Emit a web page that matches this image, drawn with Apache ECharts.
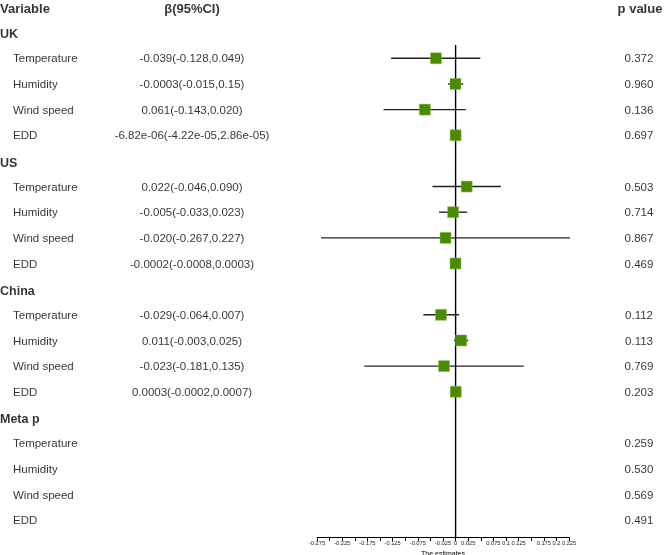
<!DOCTYPE html>
<html>
<head>
<meta charset="utf-8">
<script src="https://cdn.jsdelivr.net/npm/echarts@6/dist/echarts.min.js"></script>
<style>
html,body{margin:0;padding:0;background:#fff;}
#chart{width:664px;height:555px;}
</style>
</head>
<body>
<div id="chart"></div>
<script>
// ---- data ----
const groups = ['UK', 'US', 'China', 'Meta p'];
const variables = ['Temperature', 'Humidity', 'Wind speed', 'EDD'];
const ciText = [
  '-0.039(-0.128,0.049)', '-0.0003(-0.015,0.15)', '0.061(-0.143,0.020)', '-6.82e-06(-4.22e-05,2.86e-05)',
  '0.022(-0.046,0.090)', '-0.005(-0.033,0.023)', '-0.020(-0.267,0.227)', '-0.0002(-0.0008,0.0003)',
  '-0.029(-0.064,0.007)', '0.011(-0.003,0.025)', '-0.023(-0.181,0.135)', '0.0003(-0.0002,0.0007)'
];
const pValues = [
  '0.372', '0.960', '0.136', '0.697',
  '0.503', '0.714', '0.867', '0.469',
  '0.112', '0.113', '0.769', '0.203',
  '0.259', '0.530', '0.569', '0.491'
];
// plotted estimates and interval ends as drawn in the figure (UK, US, China)
const estimates = [-0.039, -0.0003, -0.061, -0.00000682, 0.022, -0.005, -0.020, -0.0002, -0.029, 0.011, -0.023, 0.0003];
const lower = [-0.128, -0.015, -0.143, -0.0000422, -0.046, -0.033, -0.267, -0.0008, -0.064, -0.003, -0.181, -0.0002];
const upper = [0.049, 0.015, 0.020, 0.0000286, 0.090, 0.023, 0.227, 0.0003, 0.007, 0.025, 0.135, 0.0007];
const tickLabels = ['-0.275', '-0.225', '-0.175', '-0.125', '-0.075', '-0.025', '0', '0.025', '0.075', '0.1', '0.125', '0.175', '0.2', '0.225'];
const headers = ['Variable', 'β(95%CI)', 'p value'];
const axisTitle = 'The estimates';

// ---- layout ----
const FONT = '"Liberation Sans", Arial, sans-serif';
const rowOf = (g, v) => 1 + g * 5 + 1 + v;
const Y_MIN = -0.273, Y_MAX = 20.663;
const X_GROUP = 0, X_VAR = 13, X_CI = 192, X_P = 639;

const textData = [];
function addText(x, r, text, align, bold, size) {
  textData.push({
    value: [x, r],
    label: {
      show: true, position: 'inside', formatter: text, align: align, offset: [0, 1],
      fontWeight: bold ? 'bold' : 'normal', fontSize: size, color: '#000', fontFamily: FONT
    }
  });
}
addText(X_GROUP, 0.05, headers[0], 'left', true, 13);
addText(X_CI, 0.05, headers[1], 'center', true, 13);
addText(X_P + 1, 0.05, headers[2], 'center', true, 13);
groups.forEach((g, gi) => {
  addText(X_GROUP, 1 + gi * 5 + 0.05, g, 'left', true, 12.5);
  variables.forEach((v, vi) => {
    const r = rowOf(gi, vi);
    const k = gi * 4 + vi;
    addText(X_VAR, r, v, 'left', false, 11.5);
    if (k < ciText.length) addText(X_CI, r, ciText[k], 'center', false, 11.5);
    addText(X_P, r, pValues[k], 'center', false, 11.5);
  });
});

const ciData = [];
const pointData = [];
estimates.forEach((e, k) => {
  const gi = Math.floor(k / 4), vi = k % 4;
  const r = rowOf(gi, vi);
  ciData.push([lower[k], upper[k], r]);
  pointData.push([e, r]);
});

const chart = echarts.init(document.getElementById('chart'), null, {renderer: 'canvas'});
chart.setOption({
  animation: false,
  backgroundColor: '#fff',
  textStyle: {fontFamily: FONT},
  grid: [
    {left: 317, width: 252, top: 0, height: 537, containLabel: false, outerBoundsMode: 'none'},
    {left: 0, width: 664, top: 0, height: 537, containLabel: false, outerBoundsMode: 'none'}
  ],
  xAxis: [
    {
      type: 'value', gridIndex: 0, min: -0.275, max: 0.225, interval: 0.025,
      splitLine: {show: false},
      axisLine: {show: true, onZero: false, lineStyle: {color: '#000', width: 1}},
      axisTick: {show: true, length: 4, lineStyle: {color: '#000', width: 1}},
      axisLabel: {
        fontSize: 5.7, color: '#222', margin: 3, fontFamily: FONT,
        formatter: function (v) {
          const s = String(+(+v).toFixed(3));
          return tickLabels.indexOf(s) >= 0 ? s : '';
        }
      },
      name: axisTitle, nameLocation: 'middle', nameGap: 10,
      nameTextStyle: {fontSize: 7, color: '#000', fontFamily: FONT}
    },
    {type: 'value', gridIndex: 1, min: 0, max: 664, show: false}
  ],
  yAxis: [
    {type: 'value', gridIndex: 0, min: Y_MIN, max: Y_MAX, inverse: true, show: false},
    {type: 'value', gridIndex: 1, min: Y_MIN, max: Y_MAX, inverse: true, show: false}
  ],
  series: [
    {
      type: 'line', xAxisIndex: 0, yAxisIndex: 0, symbol: 'none', silent: true,
      data: [[0, 1.48], [0, Y_MAX]],
      lineStyle: {color: '#000', width: 1.4}, z: 2
    },
    {
      type: 'custom', xAxisIndex: 0, yAxisIndex: 0, clip: false, z: 3,
      data: ciData,
      renderItem: function (params, api) {
        const p1 = api.coord([api.value(0), api.value(2)]);
        const p2 = api.coord([api.value(1), api.value(2)]);
        return {
          type: 'line',
          shape: {x1: p1[0], y1: p1[1], x2: p2[0], y2: p2[1]},
          style: {stroke: '#222', lineWidth: 1.4}
        };
      }
    },
    {
      type: 'scatter', xAxisIndex: 0, yAxisIndex: 0, symbol: 'rect', symbolSize: 11,
      data: pointData, z: 4,
      itemStyle: {color: '#4a8a00', borderColor: '#8fbf60', borderWidth: 0.5, opacity: 1}
    },
    {
      type: 'scatter', xAxisIndex: 1, yAxisIndex: 1, symbolSize: 0, clip: false,
      data: textData, z: 5, silent: true
    }
  ]
});
</script>
</body>
</html>
